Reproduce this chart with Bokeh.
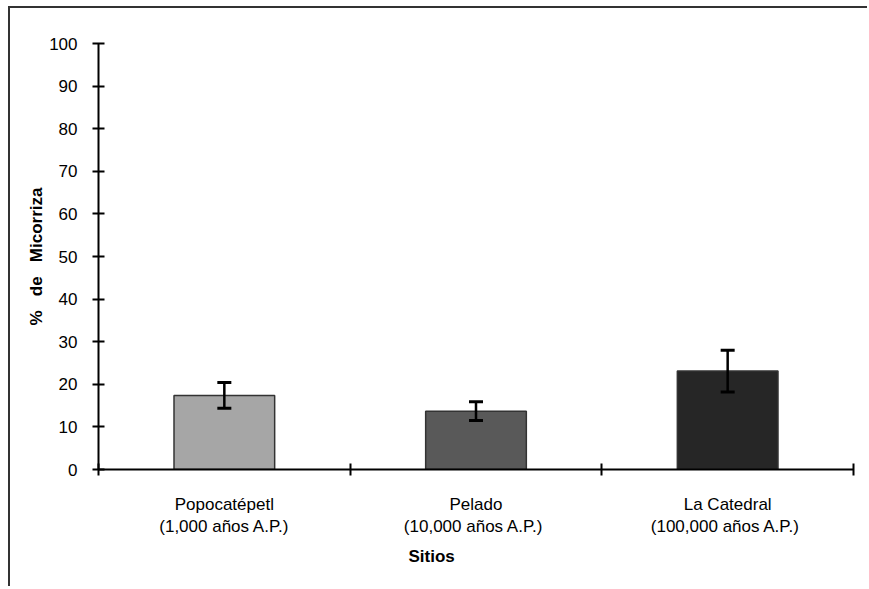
import numpy as np
from bokeh.plotting import figure
from bokeh.models import ColumnDataSource, FixedTicker, Whisker, TeeHead, Title
from bokeh.embed import file_html
from bokeh.resources import INLINE

# ---- data ----
sites = ["Popocatépetl\n(1,000 años A.P.)",
         "Pelado\n(10,000  años A.P.)",
         "La Catedral\n(100,000  años A.P.)"]
mycorrhiza = [17.4, 13.7, 23.1]
std_err = [3.0, 2.2, 4.9]
bar_colors = ["#A6A6A6", "#595959", "#262626"]
y_ticks = [0, 10, 20, 30, 40, 50, 60, 70, 80, 90, 100]

FONT = "Liberation Sans"

xc = np.arange(len(sites)) + 0.5
mean = np.array(mycorrhiza)
err = np.array(std_err)
src = ColumnDataSource(dict(x=xc, top=mean, upper=mean + err, lower=mean - err,
                            color=bar_colors))

p = figure(width=859, height=580, x_range=(0, 3), y_range=(0, 100),
           output_backend="svg", toolbar_location=None,
           min_border_left=88, min_border_right=16, min_border_top=35, min_border_bottom=119)
p.styles = {"border-top": "2px solid #333333", "border-left": "2px solid #333333",
            "margin-left": "8px", "margin-top": "6px"}
p.outline_line_color = None
p.xgrid.visible = False
p.ygrid.visible = False
p.background_fill_color = "white"
p.border_fill_color = "white"

p.vbar(x="x", top="top", width=0.4, bottom=0, fill_color="color",
       line_color="#333333", line_width=1.5, source=src)

w = Whisker(base="x", upper="upper", lower="lower", source=src, dimension="height",
            line_color="black", line_width=2.5, level="overlay",
            upper_head=TeeHead(size=14, line_width=3, line_color="black"),
            lower_head=TeeHead(size=14, line_width=3, line_color="black"))
p.add_layout(w)

# x axis
xa = p.xaxis[0]
xa.ticker = FixedTicker(ticks=list(xc), minor_ticks=[0, 1, 2, 3])
xa.major_label_overrides = {float(v): s for v, s in zip(xc, sites)}
xa.major_tick_in = 0
xa.major_tick_out = 0
xa.minor_tick_in = 6
xa.minor_tick_out = 6
xa.minor_tick_line_color = "black"
xa.minor_tick_line_width = 2
xa.axis_line_color = "black"
xa.axis_line_width = 2
xa.major_label_text_font = FONT
xa.major_label_text_font_size = "17px"
xa.major_label_text_color = "black"
xa.major_label_standoff = 19

# y axis
ya = p.yaxis[0]
ya.ticker = FixedTicker(ticks=y_ticks, minor_ticks=[])
ya.major_tick_in = 6
ya.major_tick_out = 6
ya.major_tick_line_color = "black"
ya.major_tick_line_width = 2
ya.axis_line_color = "black"
ya.axis_line_width = 2
ya.major_label_text_font = FONT
ya.major_label_text_font_size = "17px"
ya.major_label_text_color = "black"
ya.major_label_standoff = 15
ya.axis_label = "%\u00a0\u00a0\u00a0de\u00a0\u00a0\u00a0Micorriza"
ya.axis_label_text_font = FONT
ya.axis_label_text_font_size = "17px"
ya.axis_label_text_font_style = "bold"
ya.axis_label_text_color = "black"
ya.axis_label_standoff = 0

t = Title(text="Sitios", align="left", offset=310, text_font=FONT,
          text_font_size="17px", text_font_style="bold", text_color="black")
p.add_layout(t, "below")

open("out.html", "w").write(file_html(p, INLINE))
